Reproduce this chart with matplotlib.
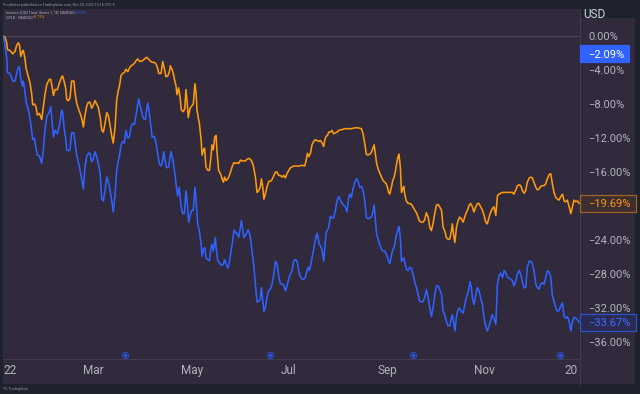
import matplotlib
matplotlib.use("Agg")
import matplotlib.pyplot as plt
from matplotlib.patches import Rectangle
from matplotlib.lines import Line2D

plt.rcParams['font.family'] = ['Roboto', 'DejaVu Sans']

# ---------------- data (x = trading-day index of 2022, y = % change) ----------------
d8 = [0.0,0.7,1.5,1.8,2.9,4.1,5.1,5.8,6.5,7.0,7.6,8.3,8.7,9.4,9.9,10.9,11.6,12.3,12.8,13.5,
      14.2,14.8,15.7,16.7,17.4,18.1,18.9,20.0,20.6,21.3,21.8,22.5,23.5,24.4,25.4,25.8,26.4,27.1,27.6,28.3,
      29.0,29.7,30.7,31.2,31.9,32.6,33.4,34.1,34.8,35.5,36.3,37.0,37.7,38.4,39.2,39.9,40.6,41.3,42.1,42.8,
      43.5,44.2,45.0,45.7,46.4,47.1,47.8,48.6,49.3,49.9]

qyld_day = d8 + [
    50.5,51.2,51.9,52.6,53.3,54.1,54.8,55.5,56.2,57.0,57.7,58.4,59.4,60.6,61.8,62.3,63.1,63.8,64.7,65.7,
    66.4,67.1,67.6,68.6,69.3,70.0,70.7,71.5,72.2,72.6,73.3,73.9,74.4,75.1,75.5,76.2,76.8,77.4,78.3,78.9,
    79.4,79.9,80.4,81.2,82.0,82.6,83.3,83.8,84.2,84.8,85.2,86.0,86.4,87.0,87.5,88.1,88.9,89.6,90.3,90.7,
    91.3,91.9,92.5,92.9,93.6,94.4,95.1,95.7,96.2,96.8,97.6,98.3,99.0,99.7,100.3,
    100.9,101.6,102.3,103.1,103.8,104.5,105.2,105.9,106.7,107.4,108.1,108.8,109.6,110.3,111.0,111.7,112.2,112.8,113.3,113.9,
    114.6,115.4,116.1,116.8,117.5,118.3,119.0,119.7,120.4,121.2,121.9,122.6,123.3,124.1,124.8,125.5,126.2,127.0,128.4,129.9,
    131.0,131.6,132.2,132.8,133.5,134.2,134.9,135.7,136.4,137.1,137.8,138.6,139.3,139.7,140.3,140.9,141.5,142.2,142.9,143.6,
    144.4,145.1,145.8,147.3,148.7,150.2,150.7,
    151.3,152.8,154.2,155.7,156.4,157.1,157.8,158.6,159.3,160.0,160.7,161.2,161.8,162.3,162.9,163.6,164.4,165.1,165.8,166.5,
    167.0,167.5,168.0,168.7,169.3,169.9,170.4,171.0,171.6,172.0,172.6,173.1,173.6,174.1,174.5,175.2,176.0,176.7,177.4,178.1,
    178.9,179.6,180.3,181.0,181.8,182.5,183.2,183.9,184.7,185.4,186.1,186.8,187.6,188.3,189.0,189.7,190.5,191.2,191.9,192.6,
    193.3,194.1,194.8,195.2,195.7,196.3,197.0,197.7,198.4,199.1,199.9,200.6,201.2,
    201.8,202.5,203.2,203.9,204.6,205.4,206.1,206.8,207.5,208.3,209.0,209.7,210.4,211.2,211.9,212.6,213.3,214.1,214.8,215.5,
    216.2,217.0,217.7,219.1,220.6,221.3,222.0,222.8,223.5,224.2,224.9,225.7,226.4,227.1,227.8,228.6,229.3,230.0,230.7,231.5,
    232.2,232.9,233.6,234.4,235.1,235.8,236.5,237.3,238.0,238.7,239.4,240.2,240.9,241.6,242.3,243.1,243.8,244.5,245.2,246.0,
    246.7,247.4,248.1,248.9,249.6,250.3]

qyld_pct = [
    0.0,-0.1,-0.8,-1.6,-1.7,-2.1,-1.8,-1.1,-0.8,-1.0,-2.4,-1.8,-1.7,-2.6,-3.8,-4.8,-5.5,-6.7,-8.1,-8.0,
    -8.3,-9.3,-9.1,-9.8,-8.3,-6.9,-5.7,-5.1,-5.1,-6.1,-7.0,-6.3,-6.3,-5.5,-4.8,-4.7,-5.3,-6.1,-7.5,-7.6,
    -7.3,-5.3,-5.3,-6.7,-7.9,-8.5,-9.1,-9.7,-10.7,-9.3,-8.2,-7.8,-7.8,-8.5,-8.1,-7.6,-8.0,-8.4,-9.5,-11.1,
    -11.3,-10.3,-9.0,-9.4,-10.5,-11.7,-12.6,-10.7,-7.5,-6.5,
    -5.9,-4.6,-4.4,-4.3,-3.9,-4.2,-3.8,-3.5,-3.4,-3.2,-2.9,-2.7,-3.0,-2.9,-2.6,-2.5,-2.7,-2.9,-3.1,-3.1,
    -3.3,-3.8,-4.4,-4.4,-3.0,-3.8,-4.8,-4.7,-4.2,-3.5,-3.9,-4.4,-5.1,-5.9,-6.9,-6.1,-7.1,-8.7,-8.9,-8.5,
    -6.3,-7.7,-9.6,-8.5,-8.2,-8.0,-5.6,-6.7,-8.7,-9.7,-10.2,-12.2,-14.0,-13.4,-13.2,-15.4,-15.8,-15.8,-14.2,-12.8,
    -13.4,-11.9,-11.7,-13.6,-15.8,-16.2,-16.8,-17.2,-16.6,-17.0,-16.8,-16.4,-15.8,-15.2,-14.9,
    -15.0,-14.9,-15.0,-14.6,-14.7,-14.7,-14.7,-14.5,-14.4,-14.5,-14.8,-15.4,-16.6,-18.4,-18.2,-17.8,-16.8,-17.8,-19.2,-18.6,
    -17.8,-17.1,-17.1,-16.9,-16.5,-16.0,-16.0,-16.4,-16.4,-16.6,-16.4,-16.7,-16.2,-15.8,-15.5,-15.4,-15.3,-15.3,-15.3,-15.2,
    -15.3,-14.7,-13.8,-14.2,-13.8,-12.8,-12.4,-12.2,-12.3,-12.4,-12.3,-12.6,-13.0,-12.3,-11.8,-11.7,-11.3,-11.3,-11.1,-11.5,
    -11.4,-11.3,-11.1,-11.0,-10.9,-10.9,-10.9,
    -10.9,-10.8,-10.8,-10.9,-11.5,-12.6,-13.9,-14.0,-13.9,-13.7,-13.2,-12.8,-14.0,-15.0,-15.6,-16.1,-16.6,-17.0,-17.2,-17.4,
    -17.8,-18.4,-18.6,-17.8,-17.0,-16.6,-16.0,-15.0,-14.2,-13.9,-15.4,-18.4,-18.0,-17.7,-18.6,-19.4,-19.7,-19.7,-19.8,-20.1,
    -20.5,-20.8,-21.3,-21.8,-21.9,-21.9,-21.6,-20.8,-21.3,-22.5,-22.9,-22.1,-20.8,-19.9,-19.8,-20.1,-20.5,-22.5,-22.9,-23.7,
    -23.9,-23.9,-22.9,-22.1,-23.3,-24.3,-22.5,-21.7,-21.3,-21.5,-21.9,-21.3,-20.8,
    -20.5,-19.9,-19.7,-20.1,-20.7,-20.1,-19.7,-19.7,-20.1,-20.5,-21.1,-21.9,-22.1,-21.3,-20.7,-20.3,-20.1,-21.1,-18.8,-18.6,
    -18.5,-18.4,-18.4,-18.4,-18.4,-18.4,-18.6,-18.1,-17.6,-17.5,-17.6,-18.2,-18.5,-18.2,-17.2,-16.7,-16.6,-16.7,-17.2,-17.8,
    -18.1,-18.0,-17.7,-17.6,-17.6,-17.4,-16.8,-16.3,-16.2,-17.4,-18.4,-19.0,-19.2,-19.3,-18.9,-18.6,-19.4,-19.5,-19.3,-20.1,
    -20.9,-20.1,-19.3,-19.5,-19.4,-19.69]

qqq_day = d8 + [
    50.4,51.2,51.9,52.6,53.3,54.1,54.8,55.5,56.2,57.0,57.7,58.4,58.9,59.4,60.3,60.9,61.8,62.3,62.8,63.5,
    64.2,64.7,65.7,66.4,67.1,67.8,68.6,69.3,69.7,70.4,71.0,71.9,72.5,72.9,73.6,74.4,75.1,75.8,76.5,77.3,
    78.0,78.7,79.4,79.9,80.6,81.2,82.0,82.6,83.3,83.8,84.5,85.2,86.0,86.4,87.0,87.6,88.1,88.9,89.6,90.3,
    90.7,91.3,92.2,92.5,93.2,94.2,95.1,95.7,96.2,96.8,97.6,98.3,99.0,99.7,100.3,
    100.9,101.6,102.3,103.1,103.5,104.1,104.6,105.2,105.9,106.4,107.0,107.5,108.1,108.8,109.6,110.3,111.0,111.7,112.2,112.8,
    113.3,113.9,114.6,115.4,116.1,116.8,117.5,118.3,119.0,119.7,120.4,121.2,121.9,122.6,123.3,124.1,124.8,125.5,126.2,127.0,
    127.7,128.4,129.1,129.9,130.6,131.3,132.0,132.5,133.1,133.6,134.2,134.9,135.7,136.4,136.8,137.4,138.0,138.6,139.3,140.0,
    140.4,141.5,142.2,142.9,143.6,144.4,145.1,145.8,146.5,147.3,148.0,148.7,149.4,150.2,150.7,
    151.3,152.0,152.8,153.5,154.2,155.0,155.7,156.4,157.1,157.8,158.6,159.3,160.0,160.7,161.2,161.8,162.3,162.9,163.6,164.4,
    165.1,165.8,166.5,167.3,168.0,168.7,169.3,169.9,170.4,171.0,171.6,172.0,172.6,173.1,173.6,174.1,174.5,175.2,176.0,176.7,
    177.4,178.1,178.9,179.6,180.3,181.0,181.8,182.5,183.2,183.9,184.7,185.4,186.1,186.8,187.6,188.3,189.0,189.7,190.5,191.2,
    191.9,192.6,193.3,194.1,194.8,195.2,195.7,196.3,197.0,197.7,198.4,199.1,199.9,200.6,201.2,
    201.8,202.5,202.9,203.5,203.9,204.6,205.4,206.1,206.8,207.5,208.3,209.0,209.7,210.4,211.2,211.9,212.6,213.3,214.1,214.8,
    215.5,216.2,217.0,217.7,218.4,219.1,219.9,220.6,221.3,222.0,222.8,223.5,224.2,224.9,225.7,226.4,227.1,227.8,228.6,229.3,
    230.0,230.7,231.5,232.2,232.9,233.6,234.4,235.1,235.8,236.5,237.3,238.0,238.7,239.4,240.2,240.9,241.6,242.3,243.1,243.8,
    244.5,245.2,246.0,246.7,247.4,248.1,248.9,249.6,250.3]

qqq_pct = [
    0.0,-1.0,-2.6,-4.3,-4.4,-5.3,-5.3,-4.4,-3.7,-3.6,-5.0,-5.9,-5.3,-6.5,-7.7,-8.7,-9.7,-11.1,-12.2,-12.0,
    -13.2,-14.0,-14.1,-15.0,-13.4,-11.1,-9.5,-8.9,-8.3,-10.3,-11.9,-11.1,-11.5,-10.5,-8.7,-9.0,-10.7,-12.0,-13.4,-13.5,
    -13.4,-11.4,-11.4,-12.6,-14.0,-14.8,-15.8,-16.9,-18.0,-15.4,-14.1,-13.8,-13.8,-14.8,-14.4,-13.6,-14.2,-15.0,-16.2,-19.2,
    -19.4,-18.2,-16.6,-17.2,-18.1,-19.3,-20.7,-18.6,-15.8,-14.8,
    -14.2,-12.8,-12.4,-12.6,-11.1,-12.0,-11.9,-10.7,-10.3,-10.4,-9.3,-8.1,-7.4,-8.1,-9.1,-9.7,-9.8,-8.6,-7.9,-9.1,
    -10.7,-11.9,-11.8,-12.6,-13.8,-15.0,-15.3,-14.6,-13.6,-14.8,-15.5,-15.4,-14.2,-13.6,-14.4,-15.8,-17.4,-18.8,-17.8,-20.1,
    -20.9,-20.9,-18.2,-19.5,-21.9,-21.1,-20.5,-20.5,-17.8,-19.3,-22.1,-22.9,-24.5,-25.9,-25.1,-24.9,-26.1,-26.3,-26.4,-24.9,
    -24.5,-25.3,-23.7,-24.9,-26.4,-26.8,-27.0,-26.8,-26.3,-26.8,-27.3,-26.6,-25.3,-24.1,-22.8,
    -23.1,-23.2,-23.7,-22.5,-21.7,-22.8,-23.7,-23.5,-23.1,-22.8,-23.2,-23.9,-25.3,-26.8,-29.2,-31.3,-31.2,-31.0,-29.6,-31.2,
    -32.4,-32.0,-30.8,-29.9,-29.8,-29.2,-28.2,-26.5,-26.8,-28.2,-29.1,-29.2,-29.3,-30.0,-29.4,-28.6,-28.0,-27.6,-26.5,-26.3,
    -26.5,-27.6,-28.3,-28.6,-28.6,-28.4,-27.6,-27.2,-27.6,-27.0,-26.1,-25.1,-23.9,-23.2,-23.7,-24.5,-24.7,-25.3,-26.5,-24.1,
    -23.1,-22.5,-21.2,-21.4,-21.4,-20.5,-19.3,-18.9,-19.3,-19.7,-19.9,-20.1,-20.7,-18.9,-18.6,
    -19.0,-18.0,-17.2,-16.8,-17.1,-17.8,-17.7,-18.2,-19.3,-21.3,-21.5,-21.4,-21.3,-20.7,-19.9,-21.7,-23.3,-23.9,-24.5,-25.1,
    -25.3,-25.3,-25.7,-26.3,-26.8,-25.9,-25.1,-24.9,-24.1,-23.3,-22.7,-22.4,-23.7,-26.5,-26.3,-26.1,-26.6,-27.4,-27.6,-27.2,
    -27.3,-28.0,-29.0,-29.6,-30.4,-31.2,-31.3,-31.2,-30.8,-29.8,-30.8,-32.0,-33.0,-32.0,-30.4,-29.4,-29.4,-29.8,-30.4,-32.4,
    -32.8,-33.6,-34.1,-34.1,-33.2,-32.8,-33.6,-34.7,-33.0,-32.2,-32.0,-32.4,-32.6,-31.6,-30.8,
    -30.4,-29.6,-28.9,-29.6,-30.8,-31.6,-30.4,-29.6,-30.0,-30.8,-31.6,-33.2,-34.1,-34.7,-34.1,-33.4,-32.8,-33.2,-33.9,-29.2,
    -28.2,-27.9,-28.4,-27.6,-27.8,-28.4,-28.5,-28.6,-28.8,-29.4,-28.8,-28.0,-27.6,-28.0,-29.0,-29.6,-29.6,-27.2,-26.5,-26.5,
    -26.8,-27.6,-29.2,-29.6,-29.8,-29.2,-29.0,-29.2,-28.4,-27.6,-27.8,-28.4,-30.6,-31.2,-32.0,-32.4,-32.3,-31.8,-31.4,-33.0,
    -33.2,-33.0,-33.6,-34.7,-33.6,-33.1,-33.2,-33.4,-33.67]

dividend_days = [53, 116, 178, 242]
x_tick_days = [0, 39, 82, 124, 167, 209, 247]
x_tick_labels = ["22", "Mar", "May", "Jul", "Sep", "Nov", "20"]
y_ticks = [0, -4, -8, -12, -16, -24, -28, -32, -36]
y_tick_labels = ["0.00%", "\u22124.00%", "\u22128.00%", "\u221212.00%", "\u221216.00%",
                 "\u221224.00%", "\u221228.00%", "\u221232.00%", "\u221236.00%"]
qqq_daily_label = -2.09
qyld_daily_label = -0.75

# ---------------- styling ----------------
W, H = 640, 394
BG = '#1e222d'
PANEL = '#31293c'
SEP = '#433a52'
TXT = '#b2b5be'
BLUE = '#2f62ff'
ORANGE = '#ff9a0a'

def fx(px):
    return px / W

def fy(py):
    return 1 - py / H

fig = plt.figure(figsize=(6.4, 3.94), dpi=100, facecolor=BG)
fig.patches.append(Rectangle((fx(3), fy(384)), fx(635) - fx(3), fy(9) - fy(384),
                             transform=fig.transFigure, facecolor=PANEL, edgecolor='none', zorder=-5))
fig.patches.append(Rectangle((fx(581), fy(17.5)), fx(635) - fx(581), fy(9.3) - fy(17.5),
                             transform=fig.transFigure, facecolor=BG, edgecolor='none', zorder=-4))

ax = fig.add_axes([fx(3), fy(359), fx(580) - fx(3), fy(9) - fy(359)])
ax.set_zorder(1)
ax.set_facecolor('none')
for s in ax.spines.values():
    s.set_visible(False)

ax.axhline(0, color='#4a4359', lw=0.8, zorder=1)
ax.plot(qyld_day, qyld_pct, color=ORANGE, lw=1.15, zorder=3, solid_joinstyle='round')
ax.plot(qqq_day, qqq_pct, color=BLUE, lw=1.15, zorder=4, solid_joinstyle='round')

ax.set_xlim(-0.13, 250.7)
ax.set_ylim(-38.0, 3.18)

ax.set_xticks(x_tick_days)
ax.set_xticklabels(x_tick_labels)
ax.tick_params(axis='x', length=0, pad=3.5, labelsize=8.5, labelcolor=TXT)
ax.get_xticklabels()[0].set_horizontalalignment('left')

ax.yaxis.tick_right()
ax.set_yticks(y_ticks)
ax.set_yticklabels(y_tick_labels)
ax.tick_params(axis='y', length=0, pad=5.8, labelsize=8, labelcolor=TXT)

# dividend markers
xt = ax.get_xaxis_transform()
ax.scatter(dividend_days, [0.012] * len(dividend_days), transform=xt, s=20,
           facecolor='#262754', edgecolor='#2d4dbd', linewidth=0.9, zorder=5, clip_on=False)
ax.scatter(dividend_days, [0.012] * len(dividend_days), transform=xt, s=2.5,
           color='#3456d0', zorder=6, clip_on=False)

# separators
fig.add_artist(Line2D([fx(3), fx(580)], [fy(359), fy(359)], transform=fig.transFigure,
                      color=SEP, lw=0.8, zorder=-3))
fig.add_artist(Line2D([fx(580), fx(580)], [fy(9), fy(384)], transform=fig.transFigure,
                      color=SEP, lw=0.8, zorder=-3))

# price labels on the right scale
yt = ax.get_yaxis_transform()

def ax_x(px):
    return (px - 3) / 577

def price_box(value, right_px, face, edge, tcolor, text):
    h = 17.0 / 8.5
    ax.add_patch(Rectangle((ax_x(579.5), value - h / 2), ax_x(right_px) - ax_x(579.5), h,
                           transform=yt, facecolor=face, edgecolor=edge, lw=0.9,
                           clip_on=False, zorder=7))
    ax.text(ax_x(588), value, text, transform=yt, ha='left', va='center_baseline',
            fontsize=8, color=tcolor, zorder=8, clip_on=False)

price_box(qqq_daily_label, 629, BLUE, BLUE, 'white', "\u22122.09%")
price_box(qyld_pct[-1], 635.5, '#3d2e31', '#a0661f', ORANGE, "\u221219.69%")
price_box(qqq_pct[-1], 635.5, '#2b2a50', '#2b52c8', '#3f6dff', "\u221233.67%")

# USD label
fig.text(fx(583), fy(14), "USD", fontsize=8.5, color='#d1d4dc', va='center', ha='left')

# header / legend / footer texts
fig.text(fx(3), fy(4.6), "PropNotes published on TradingView.com, Nov 28, 2023 10:16 UTC-5",
         fontsize=2.6, color='#9598a1', va='center', ha='left')
fig.text(fx(6), fy(12.5), "Invesco QQQ Trust, Series 1, 1D, NASDAQ", fontsize=2.7,
         color=TXT, va='center', ha='left')
fig.text(fx(75), fy(12.5), "\u22122.09%", fontsize=2.7, color=BLUE, va='center', ha='left')
fig.text(fx(6), fy(17.5), "QYLD \u00b7 NASDAQ", fontsize=2.7, color=TXT, va='center', ha='left')
fig.text(fx(33), fy(17.5), "\u22120.75%", fontsize=2.7, color=ORANGE, va='center', ha='left')
fig.text(fx(3), fy(389), "TV TradingView", fontsize=2.5, color='#9598a1', va='center', ha='left')

fig.savefig("out.png", dpi=100, facecolor=BG)
